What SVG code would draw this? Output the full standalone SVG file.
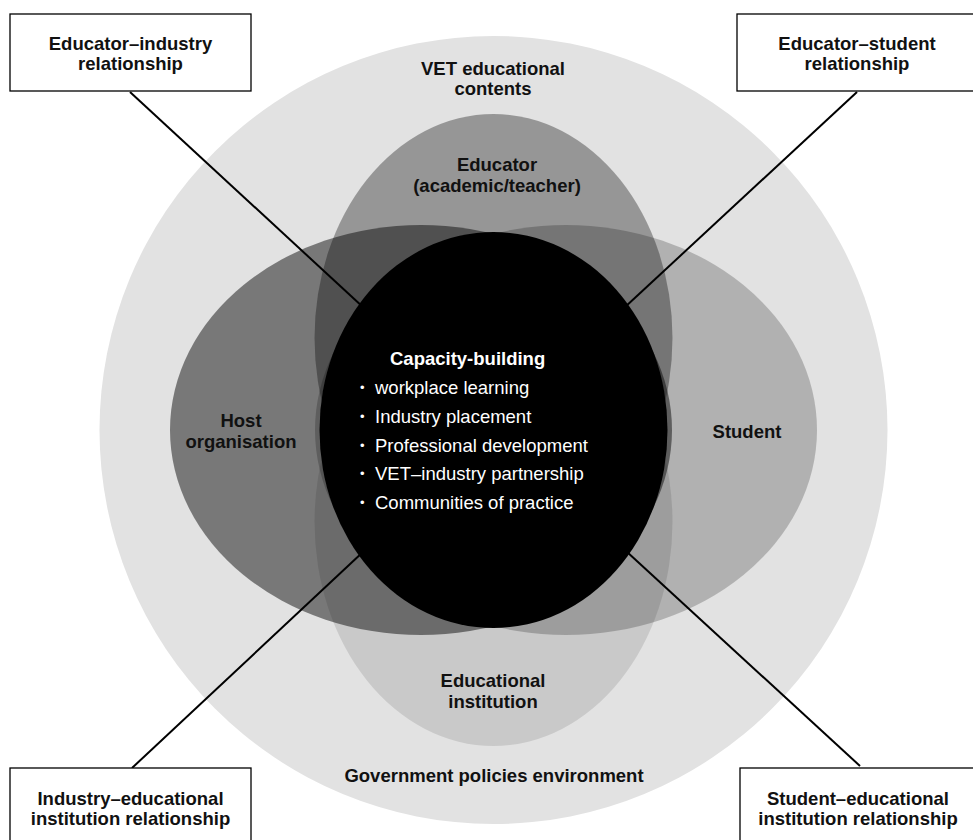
<svg xmlns="http://www.w3.org/2000/svg" width="973" height="840" viewBox="0 0 973 840">
<style>
.t{font-family:"Liberation Sans",Arial,sans-serif;font-size:18.5px;font-weight:bold;fill:#111;text-anchor:middle}
.w{font-family:"Liberation Sans",Arial,sans-serif;font-size:18.5px;fill:#fff}
.wb{font-weight:bold}
.b{font-family:"Liberation Sans",Arial,sans-serif;font-size:13px;fill:#fff}
.box{fill:#fff;stroke:#000;stroke-width:1.3}
.ln{stroke:#000;stroke-width:2;fill:none}
</style>
<rect width="973" height="840" fill="#fff"/>
<g id="environment">
<circle cx="493.5" cy="430" r="394" fill="#e2e2e2"/>
</g>
<g id="educator"><ellipse cx="493.5" cy="338" rx="179" ry="224" fill="#000" fill-opacity="0.332"/></g>
<g id="institution"><ellipse cx="493.5" cy="522" rx="179" ry="224" fill="#000" fill-opacity="0.11"/></g>
<g id="host"><ellipse cx="421" cy="430" rx="251" ry="205" fill="#000" fill-opacity="0.468"/></g>
<g id="student"><ellipse cx="566" cy="430" rx="251" ry="205" fill="#000" fill-opacity="0.216"/></g>
<g id="connectors">
<line class="ln" x1="130" y1="92" x2="364" y2="308"/>
<line class="ln" x1="857" y1="92" x2="624" y2="308"/>
<line class="ln" x1="132" y1="768" x2="364" y2="551"/>
<line class="ln" x1="860" y1="766" x2="626" y2="551"/>
</g>
<g id="capacity">
<ellipse cx="493.5" cy="430" rx="174" ry="198" fill="#000"/>
<text class="w wb" x="390" y="365">Capacity-building</text>
<text class="b" x="360" y="392">•</text><text class="w" x="375" y="394">workplace learning</text>
<text class="b" x="360" y="421">•</text><text class="w" x="375" y="423">Industry placement</text>
<text class="b" x="360" y="450">•</text><text class="w" x="375" y="452">Professional development</text>
<text class="b" x="360" y="478">•</text><text class="w" x="375" y="480">VET–industry partnership</text>
<text class="b" x="360" y="507">•</text><text class="w" x="375" y="509">Communities of practice</text>
</g>
<g id="labels">
<text class="t" x="493" y="75">VET educational</text>
<text class="t" x="493" y="95">contents</text>
<text class="t" x="497" y="171">Educator</text>
<text class="t" x="497" y="192">(academic/teacher)</text>
<text class="t" x="241" y="427">Host</text>
<text class="t" x="241" y="448">organisation</text>
<text class="t" x="747" y="438">Student</text>
<text class="t" x="493" y="687">Educational</text>
<text class="t" x="493" y="708">institution</text>
<text class="t" x="494" y="782">Government policies environment</text>
</g>
<g id="box-educator-industry">
<rect class="box" x="10" y="14" width="241" height="77"/>
<text class="t" x="130.5" y="50">Educator–industry</text>
<text class="t" x="130.5" y="70">relationship</text>
</g>
<g id="box-educator-student">
<rect class="box" x="737" y="14" width="241" height="77"/>
<text class="t" x="857" y="50">Educator–student</text>
<text class="t" x="857" y="70">relationship</text>
</g>
<g id="box-industry-institution">
<rect class="box" x="10" y="768" width="241" height="80"/>
<text class="t" x="130.5" y="805">Industry–educational</text>
<text class="t" x="130.5" y="825">institution relationship</text>
</g>
<g id="box-student-institution">
<rect class="box" x="740" y="768" width="241" height="80"/>
<text class="t" x="858" y="805">Student–educational</text>
<text class="t" x="858" y="825">institution relationship</text>
</g>
</svg>
